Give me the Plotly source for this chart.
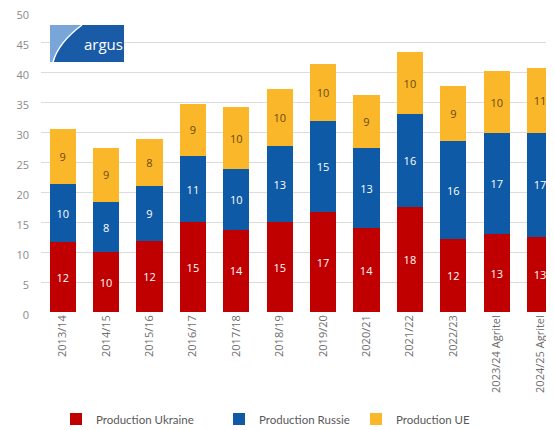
import plotly.graph_objects as go

categories = ["2013/14", "2014/15", "2015/16", "2016/17", "2017/18", "2018/19",
              "2019/20", "2020/21", "2021/22", "2022/23", "2023/24 Agritel", "2024/25 Agritel"]
ukraine = [11.6, 10.0, 11.8, 15.0, 13.7, 15.0, 16.6, 14.0, 17.5, 12.1, 13.0, 12.5]
russie = [9.8, 8.3, 9.2, 11.0, 10.2, 12.6, 15.2, 13.3, 15.5, 16.4, 16.8, 17.4]
ue = [9.1, 9.1, 7.8, 8.7, 10.2, 9.6, 9.5, 8.9, 10.3, 9.2, 10.4, 10.7]
yticks = [0, 5, 10, 15, 20, 25, 30, 35, 40, 45, 50]

FONT = "Open Sans"
OFF = 8  # page body margin
W, H = 554 - OFF, 430 - OFF
ML, MR, MT = 41 - OFF, 0, 12 - OFF
MB = H - MT - 300

fig = go.Figure()
series = [
    ("Production Ukraine", ukraine, "#C00000", "white", "legend", 76),
    ("Production Russie", russie, "#0E5AA7", "white", "legend2", 239),
    ("Production UE", ue, "#FAB72A", "#6B4A10", "legend3", 376),
]
legends = {}
for name, vals, col, tcol, leg, lx in series:
    fig.add_trace(go.Bar(
        x=categories, y=vals, name=name, legend=leg,
        marker=dict(color=col, line=dict(width=0)),
        texttemplate="%{y:.0f}", textposition="inside",
        insidetextanchor="middle",
        textfont=dict(family=FONT, size=11, color=tcol),
        hoverinfo="x+y+name",
    ))
    legends[leg] = dict(orientation="h", xref="container", yref="container",
                        x=(lx - 20 - OFF) / W, xanchor="left",
                        y=(430 - 419) / H, yanchor="middle",
                        font=dict(family="Lato", size=11.5, color="#595959"),
                        itemclick=False, bgcolor="rgba(0,0,0,0)")

pw = W - ML - MR
ph = H - MT - MB
# page-pixel to paper coordinates
def px(x):
    return (x - OFF - ML) / pw
def py(y):
    return (H - MB - (y - OFF)) / ph

# argus logo
x0, x1, y0, y1 = 50, 124, 25, 62
fig.add_shape(type="rect", xref="paper", yref="paper",
              x0=px(x0), x1=px(x1), y0=py(y1), y1=py(y0),
              fillcolor="#1A5BA8", line=dict(width=0), layer="above")
path = "M {a},{b} L {c},{d} L {e},{f} Q {g},{h} {i},{j} Z".format(
    a=px(x0), b=py(y1), c=px(x0), d=py(y0),
    e=px(82), f=py(y0), g=px(58.5), h=py(42.5), i=px(53), j=py(y1))
fig.add_shape(type="path", xref="paper", yref="paper", path=path,
              fillcolor="#7AA5D8", line=dict(width=0), layer="above")
arc = "M {e},{f} Q {g},{h} {i},{j}".format(
    e=px(82), f=py(y0), g=px(58.5), h=py(42.5), i=px(53), j=py(y1))
fig.add_shape(type="path", xref="paper", yref="paper", path=arc,
              line=dict(color="white", width=1.5), layer="above")
fig.add_annotation(x=px(103), y=py(44), xref="paper", yref="paper",
                   text="argus", showarrow=False,
                   font=dict(family=FONT, size=15, color="white"),
                   xanchor="center", yanchor="middle")

fig.update_layout(
    width=W, height=H,
    margin=dict(l=ML, r=MR, t=MT, b=MB, pad=0, autoexpand=False),
    barmode="stack", bargap=0.4,
    paper_bgcolor="white", plot_bgcolor="white",
    font=dict(family=FONT, size=11, color="#7F7F7F"),
    uniformtext=dict(minsize=8, mode="show"),
    xaxis=dict(tickangle=-90, tickfont=dict(family=FONT, size=11, color="#6E6E6E"),
               range=[-0.5, 11.32],
               showgrid=False, showline=False, ticks="", ticklen=0, automargin=False),
    yaxis=dict(range=[0, 50], tickvals=yticks, showgrid=True, gridcolor="#DCDCDC",
               gridwidth=1, zeroline=False, showline=False, ticks="",
               tickfont=dict(family=FONT, size=11, color="#8A8A8A"),
               ticklabelstandoff=11, ticklabelshift=3, ticklabeloverflow="allow",
               automargin=False),
    showlegend=True,
    **legends,
)

fig.write_html("out.html")
